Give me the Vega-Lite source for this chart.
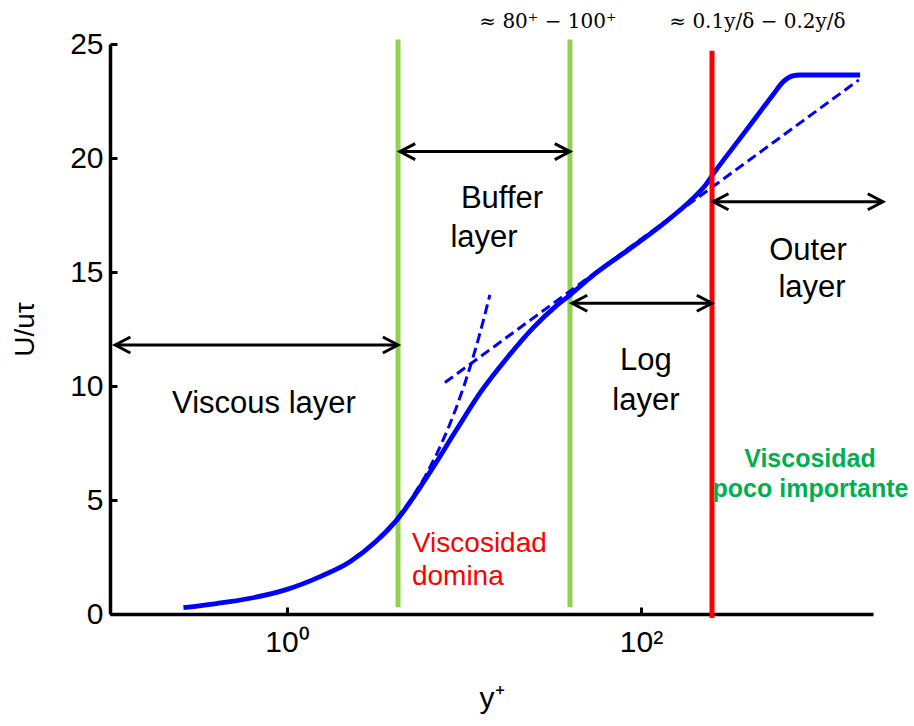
{
  "$schema": "https://vega.github.io/schema/vega-lite/v6.json",
  "width": 763,
  "height": 570,
  "padding": {"left": 110, "top": 44, "right": 41, "bottom": 112},
  "autosize": {"type": "none"},
  "background": "white",
  "config": {
    "view": {"stroke": null},
    "font": "Liberation Sans",
    "axis": {
      "grid": false,
      "domainColor": "black",
      "domainWidth": 3.5,
      "tickColor": "black",
      "tickWidth": 3,
      "tickSize": -7,
      "labelColor": "black",
      "labelFontSize": 30,
      "labelFont": "Liberation Sans",
      "titleFont": "Liberation Sans",
      "titleFontWeight": "normal",
      "titleColor": "black"
    }
  },
  "datasets": {
    "profile": [
      {"yp": 0.26, "u": 0.28}, {"yp": 0.4, "u": 0.46}, {"yp": 0.62, "u": 0.69},
      {"yp": 1.0, "u": 1.08}, {"yp": 1.54, "u": 1.64}, {"yp": 2.27, "u": 2.29},
      {"yp": 3.2, "u": 3.2}, {"yp": 4.2, "u": 4.15}, {"yp": 6.4, "u": 6.2},
      {"yp": 9.1, "u": 8.1}, {"yp": 12.3, "u": 9.69}, {"yp": 17.5, "u": 11.23},
      {"yp": 24.5, "u": 12.54}, {"yp": 32.6, "u": 13.46}, {"yp": 39.7, "u": 13.99},
      {"yp": 54, "u": 14.87}, {"yp": 83, "u": 15.92}, {"yp": 128, "u": 17.0},
      {"yp": 198, "u": 18.25}, {"yp": 230, "u": 18.78}, {"yp": 256, "u": 19.3},
      {"yp": 363, "u": 20.86}, {"yp": 450, "u": 21.82}, {"yp": 560, "u": 22.8},
      {"yp": 637, "u": 23.35}, {"yp": 720, "u": 23.6}, {"yp": 791, "u": 23.64},
      {"yp": 1730, "u": 23.64}
    ],
    "fits": [
      {"law": "log", "yp": 7.8, "u": 10.15}, {"law": "log", "yp": 1700, "u": 23.42},
      {"law": "lin", "yp": 2, "u": 2}, {"law": "lin", "yp": 3, "u": 3},
      {"law": "lin", "yp": 4, "u": 4}, {"law": "lin", "yp": 5, "u": 5},
      {"law": "lin", "yp": 6, "u": 6}, {"law": "lin", "yp": 7, "u": 7},
      {"law": "lin", "yp": 8, "u": 8}, {"law": "lin", "yp": 9, "u": 9},
      {"law": "lin", "yp": 10, "u": 10}, {"law": "lin", "yp": 11, "u": 11},
      {"law": "lin", "yp": 12, "u": 12}, {"law": "lin", "yp": 13, "u": 13},
      {"law": "lin", "yp": 14, "u": 14}
    ],
    "greenLines": [
      {"yp": 4.24, "u1": 0.3, "u2": 25.2},
      {"yp": 39.7, "u1": 0.3, "u2": 25.2}
    ],
    "redLine": [
      {"yp": 252, "u1": -0.18, "u2": 24.7}
    ],
    "arrows": [
      {"name": "viscous", "x1": 0.107, "x2": 4.24, "u": 11.8},
      {"name": "buffer", "x1": 4.35, "x2": 39.7, "u": 20.28},
      {"name": "log", "x1": 40.8, "x2": 252, "u": 13.63},
      {"name": "outer", "x1": 256, "x2": 2329, "u": 18.08}
    ],
    "blackText": [
      {"t": "Viscous layer", "yp": 0.741, "u": 8.83},
      {"t": "Buffer", "yp": 16.4, "u": 17.81},
      {"t": "layer", "yp": 12.97, "u": 16.1},
      {"t": "Log", "yp": 106.7, "u": 10.7},
      {"t": "layer", "yp": 106.7, "u": 8.95},
      {"t": "Outer", "yp": 878, "u": 15.53},
      {"t": "layer", "yp": 925, "u": 13.9}
    ],
    "redText": [
      {"t": "Viscosidad", "yp": 5.08, "u": 2.72},
      {"t": "domina", "yp": 5.08, "u": 1.27}
    ],
    "greenText": [
      {"t": "Viscosidad", "yp": 901, "u": 6.45},
      {"t": "poco importante", "yp": 907, "u": 5.13}
    ],
    "topText": [
      {"t": "≈ 80⁺ − 100⁺", "yp": 29.8, "u": 25.7},
      {"t": "≈  0.1y/δ  −  0.2y/δ", "yp": 455, "u": 25.7}
    ]
  },
  "encoding": {
    "x": {
      "field": "yp", "type": "quantitative",
      "scale": {"type": "log", "domain": [0.1, 2046], "nice": false},
      "axis": {
        "values": [1, 100],
        "labelExpr": "datum.value == 1 ? '10⁰' : '10²'",
        "title": "y⁺",
        "titleFontSize": 30,
        "labelPadding": 20,
        "titlePadding": 26
      }
    },
    "y": {
      "field": "u", "type": "quantitative",
      "scale": {"domain": [0, 25], "nice": false},
      "axis": {
        "values": [0, 5, 10, 15, 20, 25],
        "title": "U/uτ",
        "titleFontSize": 28,
        "labelPadding": 14,
        "titlePadding": 30
      }
    }
  },
  "layer": [
    {
      "data": {"name": "greenLines"},
      "mark": {"type": "rule", "color": "#92D050", "strokeWidth": 5},
      "encoding": {"y": {"field": "u1", "type": "quantitative"}, "y2": {"field": "u2"}}
    },
    {
      "data": {"name": "profile"},
      "mark": {"type": "line", "color": "#0000FF", "strokeWidth": 4.8, "interpolate": "monotone"},
      "encoding": {}
    },
    {
      "data": {"name": "fits"},
      "mark": {"type": "line", "color": "#0000FF", "strokeWidth": 3, "strokeDash": [10, 5]},
      "encoding": {"detail": {"field": "law"}}
    },
    {
      "data": {"name": "redLine"},
      "mark": {"type": "rule", "color": "#FF0000", "strokeWidth": 5},
      "encoding": {"y": {"field": "u1", "type": "quantitative"}, "y2": {"field": "u2"}}
    },
    {
      "data": {"name": "arrows"},
      "mark": {"type": "rule", "color": "black", "strokeWidth": 3},
      "encoding": {"x": {"field": "x1", "type": "quantitative"}, "x2": {"field": "x2"}}
    },
    {
      "data": {"name": "arrows"},
      "mark": {"type": "point", "shape": "M1.9,-1L0,0L1.9,1", "filled": false, "stroke": "black", "strokeWidth": 3, "size": 256, "opacity": 1},
      "encoding": {"x": {"field": "x1", "type": "quantitative"}}
    },
    {
      "data": {"name": "arrows"},
      "mark": {"type": "point", "shape": "M-1.9,-1L0,0L-1.9,1", "filled": false, "stroke": "black", "strokeWidth": 3, "size": 256, "opacity": 1},
      "encoding": {"x": {"field": "x2", "type": "quantitative"}}
    },
    {
      "data": {"name": "blackText"},
      "mark": {"type": "text", "fontSize": 31, "color": "black", "align": "center", "baseline": "alphabetic", "font": "Liberation Sans"},
      "encoding": {"text": {"field": "t"}}
    },
    {
      "data": {"name": "redText"},
      "mark": {"type": "text", "fontSize": 28, "color": "#FF0000", "align": "left", "baseline": "alphabetic", "font": "Liberation Sans"},
      "encoding": {"text": {"field": "t"}}
    },
    {
      "data": {"name": "greenText"},
      "mark": {"type": "text", "fontSize": 25, "fontWeight": "bold", "color": "#00B050", "align": "center", "baseline": "alphabetic", "font": "Liberation Sans"},
      "encoding": {"text": {"field": "t"}}
    },
    {
      "data": {"name": "topText"},
      "mark": {"type": "text", "fontSize": 20, "color": "black", "align": "center", "baseline": "alphabetic", "font": "DejaVu Serif"},
      "encoding": {"text": {"field": "t"}}
    }
  ]
}
